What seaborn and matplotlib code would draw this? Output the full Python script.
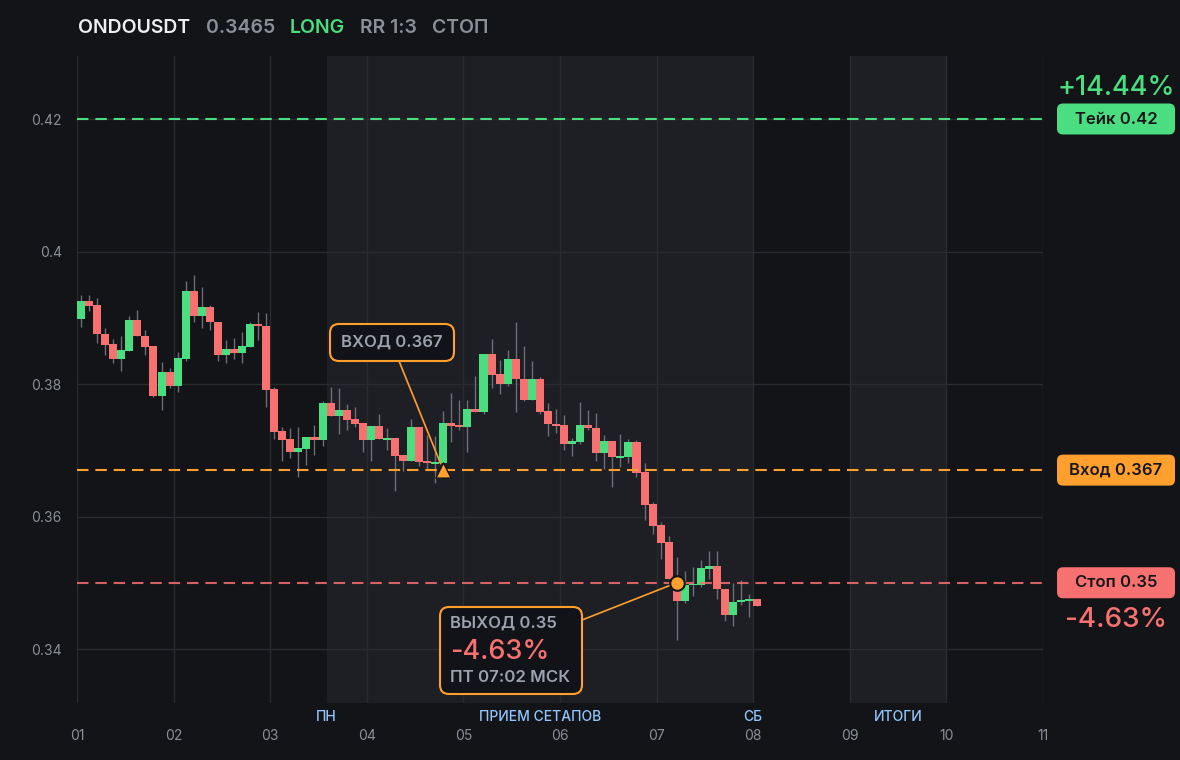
import matplotlib
matplotlib.use("Agg")
import numpy as np
import pandas as pd
import matplotlib.pyplot as plt
import seaborn as sns
from matplotlib.patches import FancyBboxPatch
from matplotlib.transforms import IdentityTransform

# 2h candles, ONDOUSDT
opens = [0.3898, 0.3925, 0.3919, 0.3876, 0.3860, 0.3837, 0.3850, 0.3897, 0.3873, 0.3857,
         0.3782, 0.3818, 0.3797, 0.3838, 0.3940, 0.3902, 0.3916, 0.3893, 0.3844, 0.3853,
         0.3847, 0.3856, 0.3891, 0.3888, 0.3792, 0.3729, 0.3717, 0.3698, 0.3702, 0.3720,
         0.3716, 0.3771, 0.3752, 0.3761, 0.3747, 0.3741, 0.3716, 0.3737, 0.3716, 0.3719,
         0.3693, 0.3684, 0.3735, 0.3684, 0.3680, 0.3681, 0.3741, 0.3738, 0.3735, 0.3762,
         0.3758, 0.3845, 0.3815, 0.3800, 0.3838, 0.3808, 0.3776, 0.3808, 0.3759, 0.3740,
         0.3738, 0.3710, 0.3713, 0.3738, 0.3733, 0.3696, 0.3714, 0.3689, 0.3690, 0.3712,
         0.3667, 0.3619, 0.3587, 0.3561, 0.3500, 0.3473, 0.3496, 0.3497, 0.3521, 0.3525,
         0.3491, 0.3452, 0.3471, 0.3473, 0.3476]
highs = [0.3934, 0.3934, 0.3930, 0.3885, 0.3868, 0.3872, 0.3903, 0.3912, 0.3882, 0.3857,
         0.3833, 0.3824, 0.3848, 0.3956, 0.3965, 0.3946, 0.3919, 0.3893, 0.3866, 0.3869,
         0.3879, 0.3894, 0.3909, 0.3907, 0.3796, 0.3735, 0.3734, 0.3735, 0.3720, 0.3738,
         0.3774, 0.3796, 0.3794, 0.3770, 0.3765, 0.3741, 0.3737, 0.3755, 0.3734, 0.3719,
         0.3693, 0.3747, 0.3735, 0.3723, 0.3722, 0.3759, 0.3786, 0.3776, 0.3776, 0.3812,
         0.3845, 0.3868, 0.3836, 0.3851, 0.3894, 0.3857, 0.3835, 0.3811, 0.3771, 0.3762,
         0.3753, 0.3718, 0.3773, 0.3761, 0.3756, 0.3723, 0.3714, 0.3724, 0.3717, 0.3715,
         0.3681, 0.3622, 0.3592, 0.3571, 0.3539, 0.3518, 0.3524, 0.3534, 0.3548, 0.3548,
         0.3491, 0.3499, 0.3504, 0.3483, 0.3476]
lows = [0.3886, 0.3910, 0.3862, 0.3844, 0.3832, 0.3820, 0.3850, 0.3873, 0.3844, 0.3781,
        0.3761, 0.3794, 0.3788, 0.3834, 0.3893, 0.3884, 0.3881, 0.3835, 0.3832, 0.3838,
        0.3831, 0.3856, 0.3867, 0.3766, 0.3717, 0.3684, 0.3688, 0.3660, 0.3678, 0.3693,
        0.3707, 0.3752, 0.3724, 0.3730, 0.3735, 0.3698, 0.3684, 0.3717, 0.3701, 0.3639,
        0.3669, 0.3684, 0.3676, 0.3670, 0.3651, 0.3681, 0.3713, 0.3730, 0.3698, 0.3758,
        0.3755, 0.3794, 0.3785, 0.3797, 0.3758, 0.3775, 0.3776, 0.3755, 0.3722, 0.3726,
        0.3701, 0.3692, 0.3710, 0.3730, 0.3684, 0.3671, 0.3645, 0.3675, 0.3681, 0.3660,
        0.3594, 0.3574, 0.3536, 0.3506, 0.3414, 0.3470, 0.3480, 0.3493, 0.3505, 0.3475,
        0.3443, 0.3435, 0.3467, 0.3449, 0.3465]
closes = [0.3925, 0.3918, 0.3876, 0.3859, 0.3837, 0.3851, 0.3897, 0.3873, 0.3856, 0.3782,
          0.3818, 0.3797, 0.3839, 0.3940, 0.3902, 0.3916, 0.3893, 0.3844, 0.3853, 0.3847,
          0.3857, 0.3891, 0.3887, 0.3791, 0.3728, 0.3716, 0.3698, 0.3703, 0.3720, 0.3716,
          0.3771, 0.3752, 0.3761, 0.3746, 0.3740, 0.3716, 0.3737, 0.3717, 0.3719, 0.3692,
          0.3684, 0.3735, 0.3683, 0.3681, 0.3683, 0.3741, 0.3737, 0.3735, 0.3762, 0.3758,
          0.3845, 0.3814, 0.3800, 0.3838, 0.3807, 0.3776, 0.3808, 0.3758, 0.3739, 0.3737,
          0.3710, 0.3714, 0.3738, 0.3733, 0.3696, 0.3714, 0.3690, 0.3692, 0.3712, 0.3666,
          0.3618, 0.3586, 0.3560, 0.3506, 0.3473, 0.3496, 0.3498, 0.3522, 0.3525, 0.3490,
          0.3452, 0.3471, 0.3474, 0.3476, 0.3465]

take_price = 0.42
entry_price = 0.367
stop_price = 0.35
entry_idx = 45
exit_idx = 74

day_ticks = list(range(1, 12))
day_labels = ["01", "02", "03", "04", "05", "06", "07", "08", "09", "10", "11"]
price_ticks = [0.34, 0.36, 0.38, 0.40, 0.42]
price_labels = ["0.34", "0.36", "0.38", "0.4", "0.42"]
week_start = 3 + 14 / 24
sessions = [(week_start, 8.0), (9.0, 10.0)]
session_names = ["ПН", "ПРИЕМ СЕТАПОВ", "СБ", "ИТОГИ"]
session_pos = [week_start, (week_start + 8.0) / 2, 8.0, 9.5]

BG = "#131418"
SHADE = "#1e1f24"
GRID = "#2a2b31"
GREEN = "#4ade80"
RED = "#f87171"
ORANGE = "#ff9f2e"
GRAY = "#8b8f98"
WICK = "#6b6e76"

sns.set_theme(style="dark", rc={"figure.facecolor": BG, "axes.facecolor": BG})
plt.rcParams["font.family"] = ["Inter", "DejaVu Sans"]

df = pd.DataFrame({"open": opens, "high": highs, "low": lows, "close": closes})
df["t"] = 1 + (np.arange(len(df)) + 0.5) / 12
df["up"] = df["close"] >= df["open"]
df["body_lo"] = df[["open", "close"]].min(axis=1)
df["body_h"] = (df["close"] - df["open"]).abs().clip(lower=0.00025)

W, H = 1180, 760
fig = plt.figure(figsize=(W / 100, H / 100), dpi=100)
ax = fig.add_axes([77 / W, 1 - 703 / H, 966 / W, 647 / H])
ax.set_xlim(1, 11)
ax.set_ylim(0.33185, 0.42951)

for a, b in sessions:
    ax.axvspan(a, b, color=SHADE, lw=0, zorder=0)
ax.set_axisbelow(True)
ax.grid(True, color=GRID, lw=1)
for s in ax.spines.values():
    s.set_visible(False)

ax.vlines(df["t"], df["low"], df["high"], color=WICK, lw=1, zorder=2)
ax.bar(df["t"], df["body_h"], bottom=df["body_lo"], width=1 / 12,
       color=np.where(df["up"], GREEN, RED), linewidth=0, zorder=3)

ax.axhline(take_price, color=GREEN, lw=1.5, ls=(0, (5.5, 3.3)), zorder=4)
ax.axhline(entry_price, color=ORANGE, lw=1.5, ls=(0, (5.5, 3.3)), zorder=4)
ax.axhline(stop_price, color=RED, lw=1.5, ls=(0, (5.5, 3.3)), alpha=0.85, zorder=4)

t_in = df["t"][entry_idx]
t_out = df["t"][exit_idx]
sns.scatterplot(x=[t_in], y=[entry_price], marker="^", s=120, color=ORANGE,
                edgecolor=BG, linewidth=1, ax=ax, zorder=6)
sns.scatterplot(x=[t_out], y=[stop_price], marker="o", s=110, color=ORANGE,
                edgecolor=BG, linewidth=1.5, ax=ax, zorder=6)

ax.set_xticks(day_ticks)
ax.set_xticklabels(day_labels)
ax.set_yticks(price_ticks)
ax.set_yticklabels(price_labels)
ax.tick_params(axis="x", length=0, pad=19, labelsize=10, labelcolor=GRAY)
ax.tick_params(axis="y", length=0, pad=11, labelsize=10, labelcolor=GRAY)
ax.set_xlabel("")
ax.set_ylabel("")

for name, x in zip(session_names, session_pos):
    ax.text(x, -0.0216, name, transform=ax.get_xaxis_transform(), ha="center",
            va="center", color="#93c5fd", fontsize=10, fontweight="medium")

# title row
ty = 1 - 28 / H
fig.text(78 / W, ty, "ONDOUSDT", color="#eceef2", fontsize=14, fontweight="semibold", va="center")
fig.text(206 / W, ty, "0.3465", color=GRAY, fontsize=14, fontweight="semibold", va="center")
fig.text(290 / W, ty, "LONG", color=GREEN, fontsize=14, fontweight="semibold", va="center")
fig.text(360 / W, ty, "RR 1:3", color=GRAY, fontsize=14, fontweight="semibold", va="center")
fig.text(432 / W, ty, "СТОП", color=GRAY, fontsize=14, fontweight="semibold", va="center")


def px_box(x0, y0, w, h, fc, ec="none", lw=0, r=6):
    p = FancyBboxPatch((x0, H - y0 - h), w, h, boxstyle=f"round,pad=0,rounding_size={r}",
                       fc=fc, ec=ec, lw=lw, transform=IdentityTransform(), zorder=5)
    fig.add_artist(p)


def y_px(price):
    return H - ax.transData.transform((0, price))[1]


# right-hand price tags
for price, label, col in [(take_price, "Тейк 0.42", GREEN),
                          (entry_price, "Вход 0.367", ORANGE),
                          (stop_price, "Стоп 0.35", RED)]:
    yc = y_px(price)
    px_box(1057, yc - 15.5, 118, 31, col, r=6)
    fig.text(1116 / W, 1 - yc / H, label, color="#15161a", fontsize=12,
             fontweight="semibold", ha="center", va="center", zorder=6)

fig.text(1116 / W, 1 - 88 / H, "+14.44%", color=GREEN, fontsize=19.5,
         fontweight="medium", ha="center", va="center")
fig.text(1116 / W, 1 - 620 / H, "-4.63%", color=RED, fontsize=20,
         fontweight="medium", ha="center", va="center")

# entry callout
px_box(330, 324, 124, 37, "#121318", ORANGE, lw=1.5, r=9)
fig.text(392 / W, 1 - 342.5 / H, "ВХОД 0.367", color="#9ca3af", fontsize=12,
         fontweight="semibold", ha="center", va="center", zorder=6)
ax.annotate("", xy=(t_in, entry_price), xytext=(399, H - 361), textcoords="figure pixels",
            arrowprops=dict(arrowstyle="-", color=ORANGE, lw=1.2, shrinkA=0, shrinkB=5))

# exit callout
px_box(440, 607, 142, 87, "#121318", ORANGE, lw=1.5, r=9)
fig.text(450 / W, 1 - 623 / H, "ВЫХОД 0.35", color="#9ca3af", fontsize=12,
         fontweight="semibold", va="center", zorder=6)
fig.text(450 / W, 1 - 652 / H, "-4.63%", color=RED, fontsize=19.5,
         fontweight="medium", va="center", zorder=6)
fig.text(450 / W, 1 - 678 / H, "ПТ 07:02 МСК", color="#9ca3af", fontsize=12.2,
         fontweight="semibold", va="center", zorder=6)
ax.annotate("", xy=(t_out, stop_price), xytext=(582, H - 620), textcoords="figure pixels",
            arrowprops=dict(arrowstyle="-", color=ORANGE, lw=1.2, shrinkA=0, shrinkB=5))

fig.savefig("out.png", dpi=100, facecolor=BG)
